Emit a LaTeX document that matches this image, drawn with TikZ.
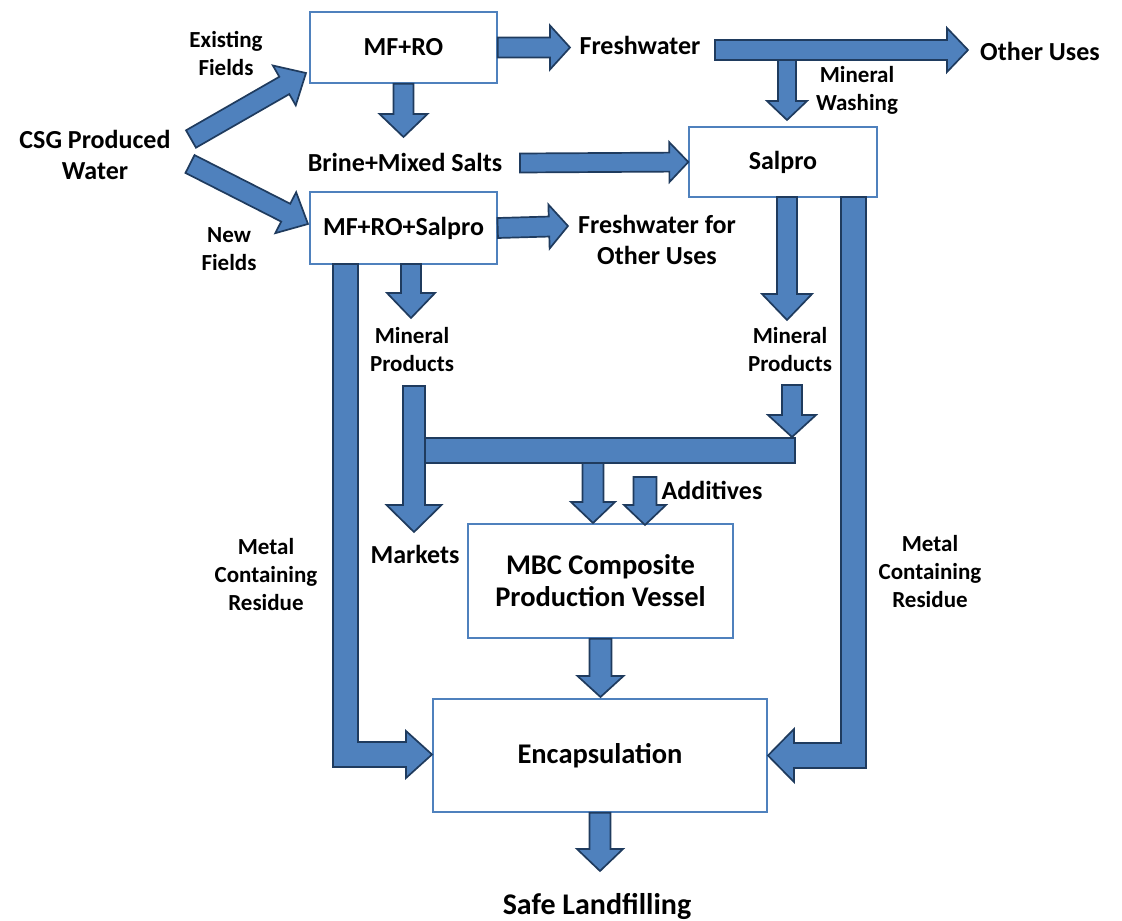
\documentclass[tikz,border=0pt]{standalone}
\usepackage{fontspec}
\setmainfont{Carlito}
\usetikzlibrary{calc}
\definecolor{ablue}{HTML}{4F81BD}
\definecolor{adark}{HTML}{1F3B5E}
\tikzset{
  barrow/.style={fill=ablue, draw=adark, line width=1.7pt, line join=miter},
  pbox/.style={draw=ablue, line width=1.4pt, fill=white, inner sep=0pt, align=center,
               font=\fontsize{26}{32}\selectfont\bfseries},
  bigbox/.style={pbox, font=\fontsize{28.5}{32}\selectfont\bfseries},
  big/.style={font=\fontsize{26}{30.5}\selectfont\bfseries, align=center, inner sep=0pt},
  small/.style={font=\fontsize{23}{28}\selectfont\bfseries, align=center, inner sep=0pt},
}
% block arrow: start, tip, shaft half width, head half width, head length
\newcommand\barr[5]{%
  \draw[barrow] let \p1=(#1), \p2=(#2), \n1={atan2(\y2-\y1,\x2-\x1)},
    \n2={veclen(\x2-\x1,\y2-\y1)-#5} in
    ($(\p1)+(\n1-90:#3)$) -- ($(\p1)+(\n1:\n2)+(\n1-90:#3)$)
    -- ($(\p1)+(\n1:\n2)+(\n1-90:#4)$) -- (\p2)
    -- ($(\p1)+(\n1:\n2)+(\n1+90:#4)$) -- ($(\p1)+(\n1:\n2)+(\n1+90:#3)$)
    -- ($(\p1)+(\n1+90:#3)$) -- cycle;}
\begin{document}
\begin{tikzpicture}[x=1pt,y=-1pt]
\useasboundingbox (0,0) rectangle (1122,921);
% boxes
\node[pbox, minimum width=187pt, minimum height=71pt] (mfro) at (403.5,47.5) {MF+RO};
\node[pbox, minimum width=188pt, minimum height=70pt] (salpro) at (783,162) {Salpro};
\node[pbox, minimum width=187pt, minimum height=72pt] (mfrosal) at (403.5,228) {MF+RO+Salpro};
\node[bigbox, minimum width=265pt, minimum height=114pt] (mbc) at (600.5,581) {MBC Composite\\Production Vessel};
\node[bigbox, minimum width=334pt, minimum height=113pt] (enc) at (600,755.5) {Encapsulation};
% labels
\node[big] (csg) at (95,155) {CSG Produced\\Water};
\node[small] (exist) at (226,53) {Existing\\Fields};
\node[small] (newf) at (229,249) {New\\Fields};
\node[big] (fresh) at (640,45) {Freshwater};
\node[big] (other) at (1040,51) {Other Uses};
\node[small] (minwash) at (857,90) {Mineral\\Washing};
\node[big] (brine) at (405,162) {Brine+Mixed Salts};
\node[big] (freshother) at (657,240) {Freshwater for\\Other Uses};
\node[small] (mpl) at (412,350) {Mineral\\Products};
\node[small] (mpr) at (790,350) {Mineral\\Products};
\node[big] (addit) at (712,490) {Additives};
\node[big] (markets) at (415,554) {Markets};
\node[small] (mcrl) at (266,575) {Metal\\Containing\\Residue};
\node[small] (mcrr) at (930,572) {Metal\\Containing\\Residue};
\node[font=\fontsize{30}{34}\selectfont\bfseries, inner sep=0pt] (safe) at (597,906) {Safe Landfilling};
% tips
\coordinate (t1) at (306,73);
\coordinate (t2) at (308,224);
% arrows
\barr{191,139}{t1}{10pt}{23pt}{25pt}
\barr{190,164}{t2}{10pt}{23pt}{25pt}
\barr{mfro.east}{570,47.5}{10pt}{22pt}{20pt}
\barr{787,58}{787,120}{9pt}{20pt}{19pt}
\barr{715,50}{968,50}{10pt}{22pt}{21pt}
\barr{mfro.south}{403.5,137}{10pt}{24pt}{23pt}
\barr{520,163}{salpro.west}{9.5pt}{20pt}{19pt}
\barr{mfrosal.east}{568,226}{10pt}{22pt}{19pt}
\barr{411,264}{411,318}{10pt}{24pt}{25pt}
\barr{787,197}{787,320}{10pt}{25pt}{26pt}
% left L arrow
\draw[barrow] (333,264) -- (333,767) -- (406,767) -- (406,778) -- (432,754.5)
  -- (406,731) -- (406,742) -- (358,742) -- (358,264) -- cycle;
% right L arrow
\draw[barrow] (866,197) -- (866,768) -- (794,768) -- (794,782) -- (768,755.5)
  -- (794,729) -- (794,743) -- (841,743) -- (841,197) -- cycle;
% bus
\draw[barrow] (425,438) rectangle (795,463);
\barr{414,386}{414,532}{11pt}{27.5pt}{27pt}
\barr{792,385}{792,437}{10pt}{24pt}{22pt}
\barr{593,463}{593,523}{10.5pt}{22pt}{21pt}
\barr{645,477}{645,525}{11.5pt}{21pt}{20pt}
\barr{mbc.south}{600.5,697}{11pt}{23pt}{21pt}
\barr{enc.south}{600,871}{10.5pt}{23pt}{22pt}
\end{tikzpicture}
\end{document}
